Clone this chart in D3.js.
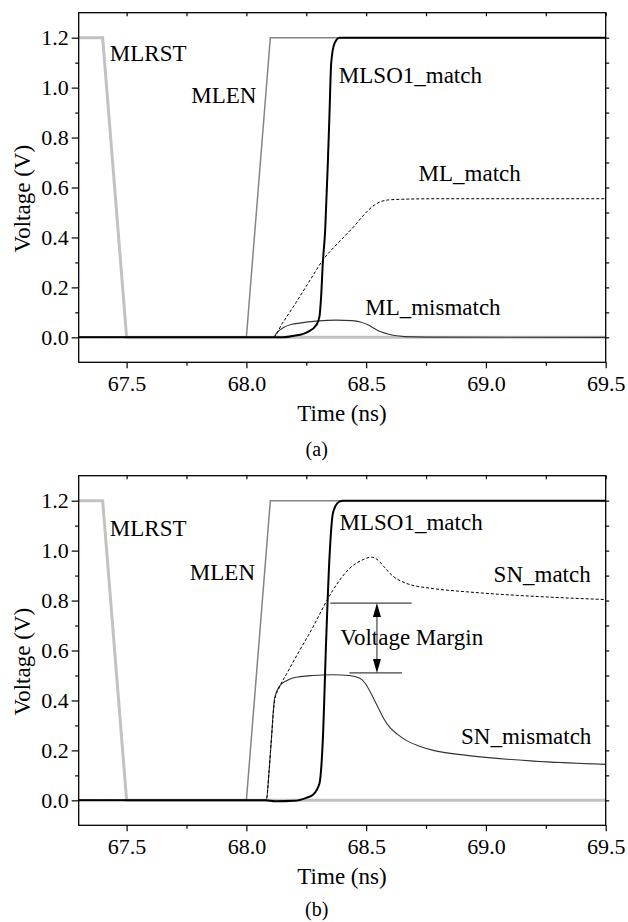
<!DOCTYPE html>
<html>
<head>
<meta charset="utf-8">
<script src="https://cdn.jsdelivr.net/npm/d3@7"></script>
<style>
body { margin: 0; background: #fff; }
svg { display: block; font-family: "Liberation Serif", "Times New Roman", serif; }
</style>
</head>
<body>
<svg id="chart" width="628" height="922"></svg>
<script>
// Waveforms, each point is [time (ns), voltage (V)]
var mlrst = [[67.3, 1.2], [67.4, 1.2], [67.5, 0], [69.5, 0]]
var mlen = [[67.3, 0], [68.0, 0], [68.1, 1.2], [69.5, 1.2]]

// panel (a)
var mlso1A = [[67.3, 0], [68.15, 0], [68.2, 0.006], [68.257, 0.022], [68.292, 0.049], [68.305, 0.083],
  [68.312, 0.163], [68.319, 0.296], [68.329, 0.43], [68.34, 0.697], [68.347, 0.897], [68.354, 1.097],
  [68.368, 1.177], [68.389, 1.2], [69.5, 1.2]]
var mlMatchA = [[67.3, 0], [68.111, 0], [68.15, 0.056], [68.201, 0.13], [68.26, 0.22], [68.326, 0.318],
  [68.37, 0.365], [68.41, 0.405], [68.45, 0.445], [68.479, 0.478], [68.51, 0.51], [68.535, 0.53],
  [68.56, 0.543], [68.59, 0.55], [68.65, 0.553], [68.8, 0.555], [69.5, 0.555]]
var mlMismatchA = [[67.3, 0], [68.112, 0], [68.13, 0.022], [68.153, 0.038], [68.19, 0.052], [68.222, 0.057],
  [68.292, 0.065], [68.375, 0.069], [68.44, 0.067], [68.48, 0.06], [68.507, 0.05], [68.535, 0.035],
  [68.562, 0.022], [68.59, 0.013], [68.618, 0.007], [68.66, 0.003], [68.75, 0.001], [69.5, 0]]

// panel (b)
var mlso1B = [[67.3, 0], [68.08, 0], [68.12, -0.004], [68.2, -0.002], [68.25, 0.01], [68.278, 0.022],
  [68.305, 0.067], [68.319, 0.24], [68.333, 0.64], [68.347, 0.974], [68.361, 1.148], [68.38, 1.19],
  [68.4, 1.2], [69.5, 1.2]]
var snMatchB = [[67.3, 0], [68.083, 0], [68.095, 0.12], [68.104, 0.24], [68.118, 0.4], [68.139, 0.455],
  [68.17, 0.51], [68.222, 0.6], [68.278, 0.694], [68.292, 0.72], [68.361, 0.841], [68.43, 0.928],
  [68.49, 0.965], [68.52, 0.974], [68.545, 0.965], [68.575, 0.935], [68.6, 0.908], [68.67, 0.868],
  [68.78, 0.848], [68.92, 0.835], [69.2, 0.817], [69.5, 0.804]]
var snMismatchB = [[67.3, 0], [68.083, 0], [68.095, 0.12], [68.104, 0.24], [68.118, 0.41], [68.139, 0.458],
  [68.17, 0.48], [68.194, 0.49], [68.278, 0.5], [68.361, 0.503], [68.43, 0.5], [68.472, 0.49],
  [68.495, 0.47], [68.514, 0.44], [68.535, 0.4], [68.556, 0.36], [68.575, 0.325], [68.597, 0.294],
  [68.63, 0.265], [68.667, 0.24], [68.72, 0.218], [68.78, 0.2], [68.92, 0.18], [69.2, 0.157], [69.5, 0.144]]

// voltage margin marker: [tStart, tEnd, level]
var marginTop = [68.35, 68.69, 0.79]
var marginBottom = [68.43, 68.65, 0.51]
var marginArrowT = 68.545

// axes
var xDomain = [67.3, 69.5]
var yDomain = [-0.1, 1.3]
var xTicks = [67.5, 68.0, 68.5, 69.0, 69.5]
var xMinor = [67.75, 68.25, 68.75, 69.25]
var yTicks = [0, 0.2, 0.4, 0.6, 0.8, 1.0, 1.2]
var yMinor = [0.1, 0.3, 0.5, 0.7, 0.9, 1.1]

var plotLeft = 78.7
var plotW = 527
var plotH = 349.6

var panels = [
  {
    top: 12.7,
    so1: mlso1A, match: mlMatchA, mismatch: mlMismatchA,
    labels: [
      { text: 'MLRST', t: 67.43, v: 1.107 },
      { text: 'MLEN', t: 67.77, v: 0.94 },
      { text: 'MLSO1_match', t: 68.386, v: 1.017 },
      { text: 'ML_match', t: 68.719, v: 0.626 },
      { text: 'ML_mismatch', t: 68.496, v: 0.089 }
    ],
    caption: '(a)', captionY: 443.3, margin: false
  },
  {
    top: 475.7,
    so1: mlso1B, match: snMatchB, mismatch: snMismatchB,
    labels: [
      { text: 'MLRST', t: 67.43, v: 1.058 },
      { text: 'MLEN', t: 67.764, v: 0.881 },
      { text: 'MLSO1_match', t: 68.389, v: 1.081 },
      { text: 'SN_match', t: 69.032, v: 0.874 },
      { text: 'SN_mismatch', t: 68.896, v: 0.227 },
      { text: 'Voltage Margin', t: 68.392, v: 0.621 }
    ],
    caption: '(b)', captionY: 440.3, margin: true
  }
]

var svg = d3.select('#chart')
var x = d3.scaleLinear().domain(xDomain).range([0, plotW])
var y = d3.scaleLinear().domain(yDomain).range([plotH, 0])

svg.append('defs').append('clipPath').attr('id', 'plotClip')
  .append('rect').attr('width', plotW).attr('height', plotH)

function drawPanel (p) {
  var g = svg.append('g').attr('transform', 'translate(' + plotLeft + ',' + p.top + ')')

  // curves
  var lin = d3.line().x(function (d) { return x(d[0]) }).y(function (d) { return y(d[1]) })
  var smooth = d3.line().curve(d3.curveMonotoneX)
    .x(function (d) { return x(d[0]) }).y(function (d) { return y(d[1]) })
  var lines = g.append('g').attr('clip-path', 'url(#plotClip)').attr('fill', 'none')
  lines.append('path').attr('d', lin(mlrst)).attr('stroke', '#c2c2c2').attr('stroke-width', 3)
  lines.append('path').attr('d', lin(mlen)).attr('stroke', '#858585').attr('stroke-width', 1.5)
  lines.append('path').attr('d', smooth(p.mismatch)).attr('stroke', '#333').attr('stroke-width', 1.1)
  lines.append('path').attr('d', smooth(p.match)).attr('stroke', '#000').attr('stroke-width', 1)
    .attr('stroke-dasharray', '3,2')
  lines.append('path').attr('d', smooth(p.so1)).attr('stroke', '#000').attr('stroke-width', 2)

  // bottom & left axes (ticks outward)
  var fmt = d3.format('.1f')
  var ax = g.append('g').attr('transform', 'translate(0,' + plotH + ')')
    .call(d3.axisBottom(x).tickValues(xTicks).tickFormat(fmt).tickSize(6).tickPadding(7).tickSizeOuter(0))
  var ay = g.append('g')
    .call(d3.axisLeft(y).tickValues(yTicks).tickFormat(fmt).tickSize(7).tickPadding(3).tickSizeOuter(0))
  g.append('g').attr('transform', 'translate(0,' + plotH + ')')
    .call(d3.axisBottom(x).tickValues(xMinor).tickFormat('').tickSize(3.5).tickSizeOuter(0))
  g.append('g')
    .call(d3.axisLeft(y).tickValues(yMinor).tickFormat('').tickSize(3.5).tickSizeOuter(0))
  // mirrored top & right ticks
  g.append('g')
    .call(d3.axisTop(x).tickValues(xTicks.concat(xMinor)).tickFormat('').tickSize(-3.5).tickSizeOuter(0))
  g.append('g').attr('transform', 'translate(' + plotW + ',0)')
    .call(d3.axisRight(y).tickValues(yTicks.concat(yMinor)).tickFormat('').tickSize(3.5).tickSizeOuter(0))
  g.selectAll('.domain').remove()
  g.selectAll('.tick line').attr('stroke', '#000').attr('stroke-width', 1.2)
  g.selectAll('.tick text').attr('font-size', 22).attr('font-family', '"Liberation Serif", serif').attr('fill', '#000')

  g.append('rect').attr('width', plotW).attr('height', plotH)
    .attr('fill', 'none').attr('stroke', '#000').attr('stroke-width', 1.3)

  // axis titles
  g.append('text').attr('x', 342 - plotLeft).attr('y', 408)
    .attr('text-anchor', 'middle').attr('font-size', 23).text('Time (ns)')
  g.append('text').attr('transform', 'translate(' + (30 - plotLeft) + ',' + 186 + ') rotate(-90)')
    .attr('text-anchor', 'middle').attr('font-size', 23).text('Voltage (V)')
  g.append('text').attr('x', 316.7 - plotLeft).attr('y', p.captionY)
    .attr('text-anchor', 'middle').attr('font-size', 20).text(p.caption)

  // curve labels
  g.selectAll('text.lbl').data(p.labels).enter().append('text').attr('class', 'lbl')
    .attr('x', function (d) { return x(d.t) }).attr('y', function (d) { return y(d.v) })
    .attr('font-size', 23).text(function (d) { return d.text })

  if (p.margin) {
    var m = g.append('g').attr('stroke', '#444').attr('stroke-width', 1.2)
    m.append('line').attr('x1', x(marginTop[0])).attr('x2', x(marginTop[1]))
      .attr('y1', y(marginTop[2])).attr('y2', y(marginTop[2]))
    m.append('line').attr('x1', x(marginBottom[0])).attr('x2', x(marginBottom[1]))
      .attr('y1', y(marginBottom[2])).attr('y2', y(marginBottom[2]))
    var ax0 = x(marginArrowT)
    var yt = y(marginTop[2])
    var yb = y(marginBottom[2])
    m.append('line').attr('x1', ax0).attr('x2', ax0).attr('y1', yt + 10).attr('y2', yb - 10)
    g.append('path').attr('fill', '#000')
      .attr('d', 'M' + ax0 + ',' + yt + 'L' + (ax0 - 4) + ',' + (yt + 14) + 'L' + (ax0 + 4) + ',' + (yt + 14) + 'Z')
    g.append('path').attr('fill', '#000')
      .attr('d', 'M' + ax0 + ',' + yb + 'L' + (ax0 - 4) + ',' + (yb - 14) + 'L' + (ax0 + 4) + ',' + (yb - 14) + 'Z')
  }
}

panels.forEach(drawPanel)
</script>
</body>
</html>
